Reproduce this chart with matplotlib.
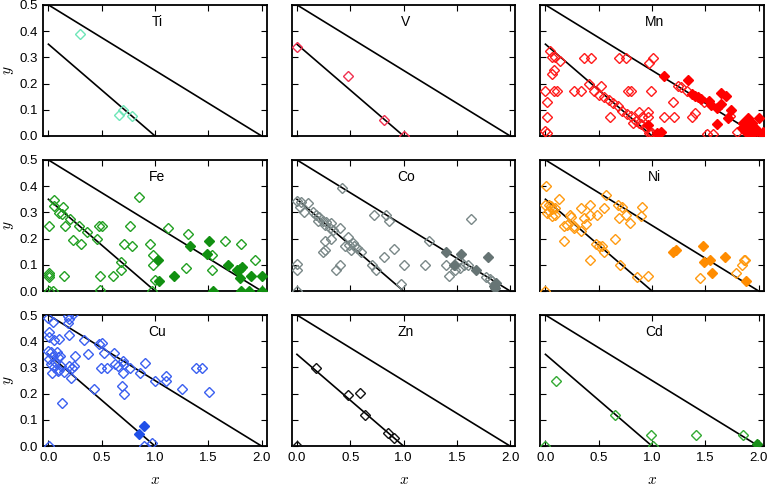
import numpy as np
import matplotlib
matplotlib.use('Agg')
import matplotlib.pyplot as plt

plt.rcParams['font.family'] = ['Liberation Sans', 'DejaVu Sans']
plt.rcParams['mathtext.fontset'] = 'cm'

# ---- data (open = hollow diamonds, fill = solid) ----
ti_x = [0.30, 0.70, 0.66, 0.78]
ti_y = [0.39, 0.10, 0.08, 0.075]

v_x = [0.0, 0.48, 0.82, 1.0]
v_y = [0.34, 0.23, 0.06, 0.0]

mn_x = [0.047, 0.094, 0.14, 0.063, 0.36, 0.425, 0.69, 0.755, 1.006, 0.975,
        0.08, 0.063, 0.41, 0.52, 0.0, 0.08, 0.11, 0.27, 0.33, 0.455,
        0.50, 0.55, 0.60, 0.63, 0.676, 0.72, 0.764, 0.80, 0.85, 0.90,
        0.94, 0.975, 0.77, 0.80, 0.99, 0.01, 0.01, 0.61, 0.88, 0.96,
        0.91, 0.96, 0.82, 0.88, 0.0, 0.01, 0.99, 1.24, 1.27, 1.33,
        1.195, 1.49, 1.73, 1.40, 1.37, 1.11, 1.21, 1.0, 1.52, 1.57, 1.80]
mn_y = [0.323, 0.30, 0.287, 0.30, 0.297, 0.297, 0.297, 0.297, 0.297, 0.278,
        0.253, 0.236, 0.198, 0.189, 0.17, 0.17, 0.17, 0.17, 0.17, 0.17,
        0.157, 0.147, 0.138, 0.126, 0.113, 0.096, 0.084, 0.075, 0.058, 0.045,
        0.030, 0.013, 0.17, 0.17, 0.17, 0.129, 0.072, 0.072, 0.092, 0.092,
        0.072, 0.072, 0.05, 0.05, 0.02, 0.01, 0.01, 0.189, 0.185, 0.172,
        0.131, 0.131, 0.078, 0.087, 0.074, 0.074, 0.074, 0.01, 0.006, 0.006, 0.014]
mn_fx = [0.96, 1.05, 1.116, 1.34, 1.37, 1.40, 1.43, 1.46, 1.53, 1.55,
         1.65, 1.69, 1.65, 1.61, 1.745, 1.71, 1.61, 1.085, 1.855, 1.90,
         1.89, 1.92, 1.87, 1.95, 2.0, 1.98, 2.03, 2.04, 1.92, 1.97,
         1.94, 1.84]
mn_fy = [0.04, 0.01, 0.23, 0.212, 0.16, 0.153, 0.147, 0.142, 0.134, 0.119,
         0.164, 0.151, 0.121, 0.108, 0.10, 0.07, 0.045, 0.014, 0.049, 0.068,
         0.036, 0.023, 0.017, 0.01, 0.068, 0.017, 0.006, 0.014, 0.004, 0.03,
         0.049, 0.03]

fe_x = [0.056, 0.056, 0.134, 0.10, 0.128, 0.205, 0.01, 0.159, 0.283, 0.227,
        0.305, 0.358, 0.454, 0.47, 0.50, 0.85, 0.77, 0.71, 0.78, 0.95,
        0.684, 0.684, 0.61, 0.485, 0.485, 0.15, 0.01, 0.01, 0.01, 0.01,
        0.04, 0.98, 0.98, 1.0, 0.97, 1.12, 1.31, 1.29, 1.53, 1.53,
        1.66, 1.81, 1.94]
fe_y = [0.349, 0.323, 0.32, 0.298, 0.294, 0.275, 0.249, 0.249, 0.249, 0.194,
        0.179, 0.225, 0.199, 0.249, 0.249, 0.36, 0.249, 0.179, 0.17, 0.179,
        0.111, 0.079, 0.059, 0.059, 0.003, 0.059, 0.068, 0.052, 0.06, 0.0,
        0.0, 0.137, 0.098, 0.042, 0.0, 0.24, 0.219, 0.089, 0.137, 0.082,
        0.19, 0.179, 0.12]
fe_fx = [1.03, 1.04, 1.18, 1.33, 1.49, 1.51, 1.54, 1.68, 1.77, 1.80,
         1.82, 1.80, 1.81, 1.88, 1.90, 2.0, 2.0]
fe_fy = [0.12, 0.039, 0.059, 0.17, 0.14, 0.192, 0.0, 0.10, 0.079, 0.085,
         0.092, 0.048, 0.0, 0.0, 0.059, 0.059, 0.0]

co_x = [0.425, 0.0, 0.04, 0.10, 0.025, 0.07, 0.15, 0.18, 0.21, 0.24,
        0.20, 0.275, 0.26, 0.32, 0.31, 0.40, 0.34, 0.32, 0.26, 0.26,
        0.24, 0.48, 0.49, 0.45, 0.54, 0.53, 0.56, 0.60, 0.51, 0.72,
        0.84, 0.86, 0.91, 0.82, 0.70, 0.74, 1.0, 1.2, 0.98, 0.40,
        0.37, 0.0, 0.0, 0.0, 1.24, 1.63, 1.40, 1.48, 1.53, 1.57,
        1.60, 1.43, 1.48, 1.52, 1.775, 1.81, 1.83]
co_y = [0.393, 0.343, 0.34, 0.334, 0.32, 0.30, 0.30, 0.29, 0.281, 0.268,
        0.268, 0.262, 0.251, 0.259, 0.242, 0.242, 0.232, 0.199, 0.19, 0.157,
        0.15, 0.207, 0.177, 0.173, 0.170, 0.183, 0.164, 0.15, 0.157, 0.29,
        0.29, 0.268, 0.161, 0.131, 0.098, 0.081, 0.098, 0.098, 0.026, 0.098,
        0.081, 0.102, 0.081, 0.0, 0.19, 0.275, 0.098, 0.098, 0.089, 0.098,
        0.098, 0.059, 0.081, 0.118, 0.055, 0.046, 0.037]
co_fx = [1.40, 1.54, 1.47, 1.68, 1.79, 1.85, 1.87, 1.86]
co_fy = [0.15, 0.14, 0.10, 0.081, 0.131, 0.02, 0.029, 0.01]

ni_x = [0.006, 0.0, 0.03, 0.05, 0.03, 0.06, 0.016, 0.06, 0.094, 0.126,
        0.094, 0.17, 0.17, 0.23, 0.24, 0.20, 0.267, 0.27, 0.33, 0.36,
        0.38, 0.33, 0.42, 0.42, 0.48, 0.55, 0.565, 0.42, 0.47, 0.50,
        0.53, 0.55, 0.65, 0.68, 0.72, 0.69, 0.76, 0.79, 0.91, 0.90,
        0.70, 0.86, 0.96, 0.0, 1.45, 1.79, 1.84, 1.86, 1.87]
ni_y = [0.40, 0.327, 0.33, 0.325, 0.307, 0.314, 0.298, 0.288, 0.317, 0.35,
        0.29, 0.249, 0.19, 0.29, 0.284, 0.251, 0.249, 0.242, 0.229, 0.277,
        0.255, 0.317, 0.327, 0.29, 0.29, 0.317, 0.366, 0.12, 0.179, 0.17,
        0.173, 0.15, 0.199, 0.33, 0.32, 0.277, 0.29, 0.259, 0.32, 0.288,
        0.098, 0.052, 0.059, 0.0, 0.048, 0.068, 0.098, 0.12, 0.12]
ni_fx = [1.20, 1.22, 1.48, 1.485, 1.54, 1.56, 1.68, 1.88]
ni_fy = [0.15, 0.157, 0.17, 0.109, 0.12, 0.068, 0.131, 0.039]

cu_x = [0.0, 0.047, 0.18, 0.196, 0.18, 0.227, 0.01, 0.003, 0.056, 0.096,
        0.196, 0.0, 0.025, 0.04, 0.01, 0.078, 0.087, 0.065, 0.11, 0.025,
        0.056, 0.035, 0.087, 0.119, 0.103, 0.15, 0.19, 0.22, 0.243, 0.252,
        0.21, 0.336, 0.376, 0.43, 0.125, 0.476, 0.50, 0.52, 0.49, 0.55,
        0.616, 0.626, 0.656, 0.70, 0.71, 0.70, 0.695, 0.71, 0.77, 0.855,
        0.905, 1.0, 1.10, 1.10, 1.25, 1.38, 1.44, 1.51, 0.895, 0.97, 0.01]
cu_y = [0.49, 0.474, 0.498, 0.485, 0.468, 0.503, 0.436, 0.416, 0.403, 0.407,
        0.425, 0.364, 0.36, 0.345, 0.332, 0.358, 0.339, 0.322, 0.345, 0.313,
        0.30, 0.28, 0.287, 0.306, 0.291, 0.283, 0.306, 0.296, 0.306, 0.345,
        0.261, 0.405, 0.35, 0.216, 0.164, 0.39, 0.394, 0.355, 0.296, 0.296,
        0.355, 0.315, 0.306, 0.326, 0.315, 0.278, 0.229, 0.199, 0.296, 0.278,
        0.317, 0.248, 0.267, 0.248, 0.216, 0.297, 0.297, 0.207, 0.0, 0.012, 0.0]
cu_fx = [0.85, 0.90]
cu_fy = [0.048, 0.078]

zn_x = [0.18, 0.48, 0.59, 0.64, 0.85, 0.91, 0.0]
zn_y = [0.296, 0.196, 0.202, 0.119, 0.05, 0.031, 0.0]

cd_x = [0.10, 0.65, 0.99, 1.01, 1.41, 1.85, 0.0]
cd_y = [0.248, 0.119, 0.041, 0.0, 0.041, 0.041, 0.0]
cd_fx = [1.98]
cd_fy = [0.009]

names = ['Ti', 'V', 'Mn', 'Fe', 'Co', 'Ni', 'Cu', 'Zn', 'Cd']
open_pts = [(ti_x, ti_y), (v_x, v_y), (mn_x, mn_y), (fe_x, fe_y), (co_x, co_y),
            (ni_x, ni_y), (cu_x, cu_y), (zn_x, zn_y), (cd_x, cd_y)]
fill_pts = [([], []), ([], []), (mn_fx, mn_fy), (fe_fx, fe_fy), (co_fx, co_fy),
            (ni_fx, ni_fy), (cu_fx, cu_fy), ([], []), (cd_fx, cd_fy)]
colors = ['#6ee6b8', '#f0304f', '#ff1a1a', '#22a022', '#7a8888',
          '#ff9a10', '#3a5ff0', '#111111', '#33aa33']
fill_colors = ['#6ee6b8', '#f0304f', '#ff0000', '#119011', '#667474',
               '#ff8c00', '#2050e8', '#111111', '#1a8f1a']

xticks = [0.0, 0.5, 1.0, 1.5, 2.0]
yticks = [0.0, 0.1, 0.2, 0.3, 0.4, 0.5]


def main():
    fig, axes = plt.subplots(3, 3, figsize=(7.69, 4.87), dpi=100)
    fig.subplots_adjust(left=0.056, right=0.9935, top=0.99, bottom=0.084,
                        wspace=0.11, hspace=0.183)

    line_x = np.array([0.0, 2.0])
    for i, ax in enumerate(axes.flat):
        ax.plot(line_x, 0.5 - 0.25 * line_x, color='k', lw=1.2, zorder=2)
        ax.plot([0.0, 1.0], [0.35, 0.0], color='k', lw=1.2, zorder=2)
        ax.plot(line_x, [0.0, 0.0], color='#3050e0', lw=1.0, zorder=1)

        ox, oy = open_pts[i]
        ax.plot(ox, oy, 'D', ms=5.5, mfc='none', mec=colors[i], mew=1.0,
                zorder=3)
        fx, fy = fill_pts[i]
        if len(fx):
            ax.plot(fx, fy, 'D', ms=5.5, mfc=fill_colors[i], mec=fill_colors[i],
                    mew=1.0, zorder=4)

        ax.text(0.51, 0.87, names[i], transform=ax.transAxes, ha='center',
                va='center', fontsize=10)

        ax.set_xlim(-0.05, 2.05)
        ax.set_ylim(0.0, 0.5)
        ax.set_xticks(xticks)
        ax.set_yticks(yticks)
        ax.tick_params(direction='in', length=4, width=0.8, top=True,
                       right=True, labelsize=9.5, pad=4)
        for s in ax.spines.values():
            s.set_linewidth(1.3)

        row, col = divmod(i, 3)
        if col == 0:
            ax.set_ylabel('$y$', fontsize=11, labelpad=2)
        else:
            ax.set_yticklabels([])
        if row == 2:
            ax.set_xlabel('$x$', fontsize=11, labelpad=7)
        else:
            ax.set_xticklabels([])

    fig.savefig('out.png', dpi=100)


if __name__ == '__main__':
    main()
